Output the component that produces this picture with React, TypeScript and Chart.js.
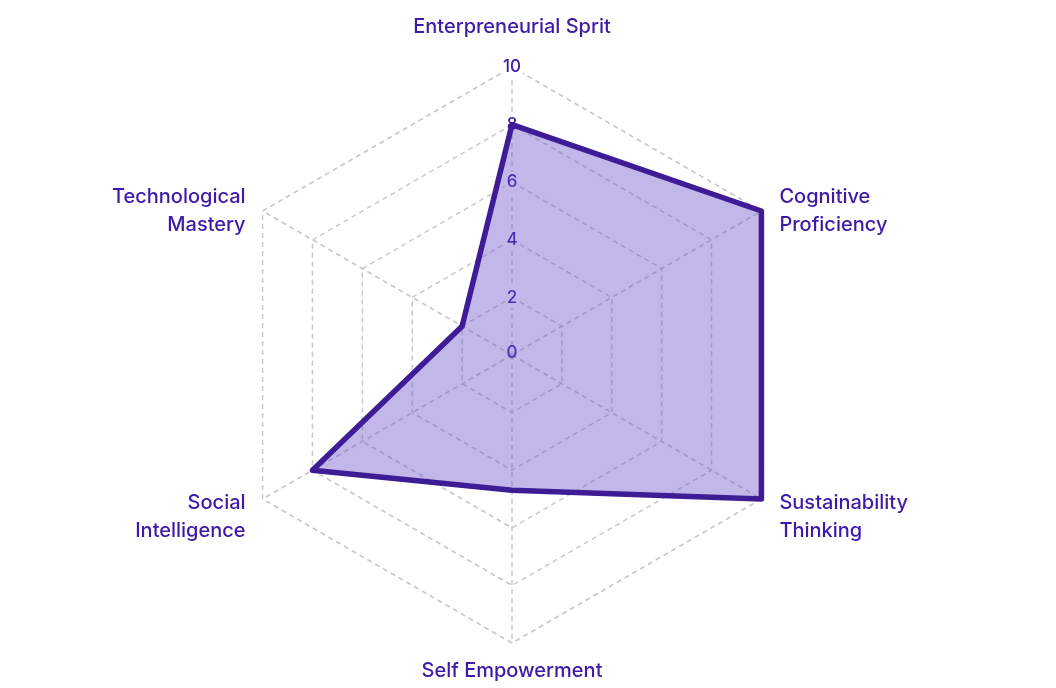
import React, { useEffect, useRef } from "react";
import { Chart, registerables } from "chart.js";

Chart.register(...registerables);

const categories: string[][] = [
  ["Enterpreneurial Sprit"],
  ["Cognitive", "Proficiency"],
  ["Sustainability", "Thinking"],
  ["Self Empowerment"],
  ["Social", "Intelligence"],
  ["Technological", "Mastery"],
];
const scores = [8, 10, 10, 4.7, 8, 2];
const tickMin = 0;
const tickMax = 10;
const tickStep = 2;

const labelColor = "#3d1aa8";
const lineColor = "#3e1c96";
const fillColor = "rgba(104, 74, 200, 0.4)";
const gridColor = "#c8c8cc";
const fontFamily = "Inter, 'Noto Sans', sans-serif";

const zeroLabel = {
  id: "zeroLabel",
  beforeDatasetsDraw(chart: any) {
    const r = chart.scales.r;
    const ctx = chart.ctx;
    ctx.save();
    ctx.font = `500 17px ${fontFamily}`;
    ctx.fillStyle = labelColor;
    ctx.textAlign = "center";
    ctx.textBaseline = "middle";
    ctx.fillText(String(tickMin), r.xCenter, r.yCenter - 2);
    ctx.restore();
  },
};

const axisLabels = {
  id: "axisLabels",
  afterDraw(chart: any) {
    const r = chart.scales.r;
    const ctx = chart.ctx;
    const n = categories.length;
    const lineH = 28;
    ctx.save();
    ctx.font = `500 20px ${fontFamily}`;
    ctx.fillStyle = labelColor;
    ctx.textBaseline = "middle";
    for (let i = 0; i < n; i++) {
      const p = r.getPointPosition(i, r.drawingArea);
      const lines = categories[i];
      const h = lines.length * lineH;
      let x = p.x;
      let yTop = p.y - h / 2;
      const dx = p.x - r.xCenter;
      const below = p.y > r.yCenter;
      if (Math.abs(dx) < 1) {
        ctx.textAlign = "center";
        if (!below) yTop = p.y - 40 - lineH / 2;
        else yTop = p.y + 28 - lineH / 2;
      } else {
        if (below) yTop += 18;
        if (dx > 0) {
          ctx.textAlign = "left";
          x = p.x + 18;
        } else {
          ctx.textAlign = "right";
          x = p.x - 17;
        }
      }
      lines.forEach((t, k) => {
        ctx.fillText(t, x, yTop + lineH / 2 + k * lineH);
      });
    }
    ctx.restore();
  },
};

export default function App() {
  const ref = useRef<HTMLCanvasElement | null>(null);
  useEffect(() => {
    if (!ref.current) return;
    const chart = new Chart(ref.current, {
      type: "radar",
      data: {
        labels: categories.map((l) => l.join(" ")),
        datasets: [
          {
            data: scores,
            borderColor: lineColor,
            backgroundColor: fillColor,
            borderWidth: 5.5,
            fill: true,
            pointRadius: 0,
            pointHoverRadius: 0,
            borderJoinStyle: "round",
          },
        ],
      },
      options: {
        animation: false,
        responsive: false,
        maintainAspectRatio: false,
        layout: { padding: { top: 56, bottom: 34 } },
        plugins: { legend: { display: false }, tooltip: { enabled: false } },
        scales: {
          r: {
            min: tickMin,
            max: tickMax,
            ticks: {
              stepSize: tickStep,
              color: labelColor,
              font: { family: fontFamily, size: 17, weight: 500 },
              backdropColor: "rgba(255,255,255,1)",
              backdropPadding: { x: 2, y: 2 },
            },
            grid: {
              color: gridColor,
              lineWidth: 1.5,
            },
            border: {
              dash: [5, 4],
            },
            angleLines: {
              color: gridColor,
              lineWidth: 1.5,
              borderDash: [5, 4],
            },
            pointLabels: {
              display: false,
            },
          },
        },
      },
      plugins: [zeroLabel, axisLabels],
    });
    return () => chart.destroy();
  }, []);
  return (
    <div style={{ position: "absolute", left: 0, top: 0, width: 1024, height: 688 }}>
      <canvas ref={ref} width={1024} height={688} />
    </div>
  );
}
